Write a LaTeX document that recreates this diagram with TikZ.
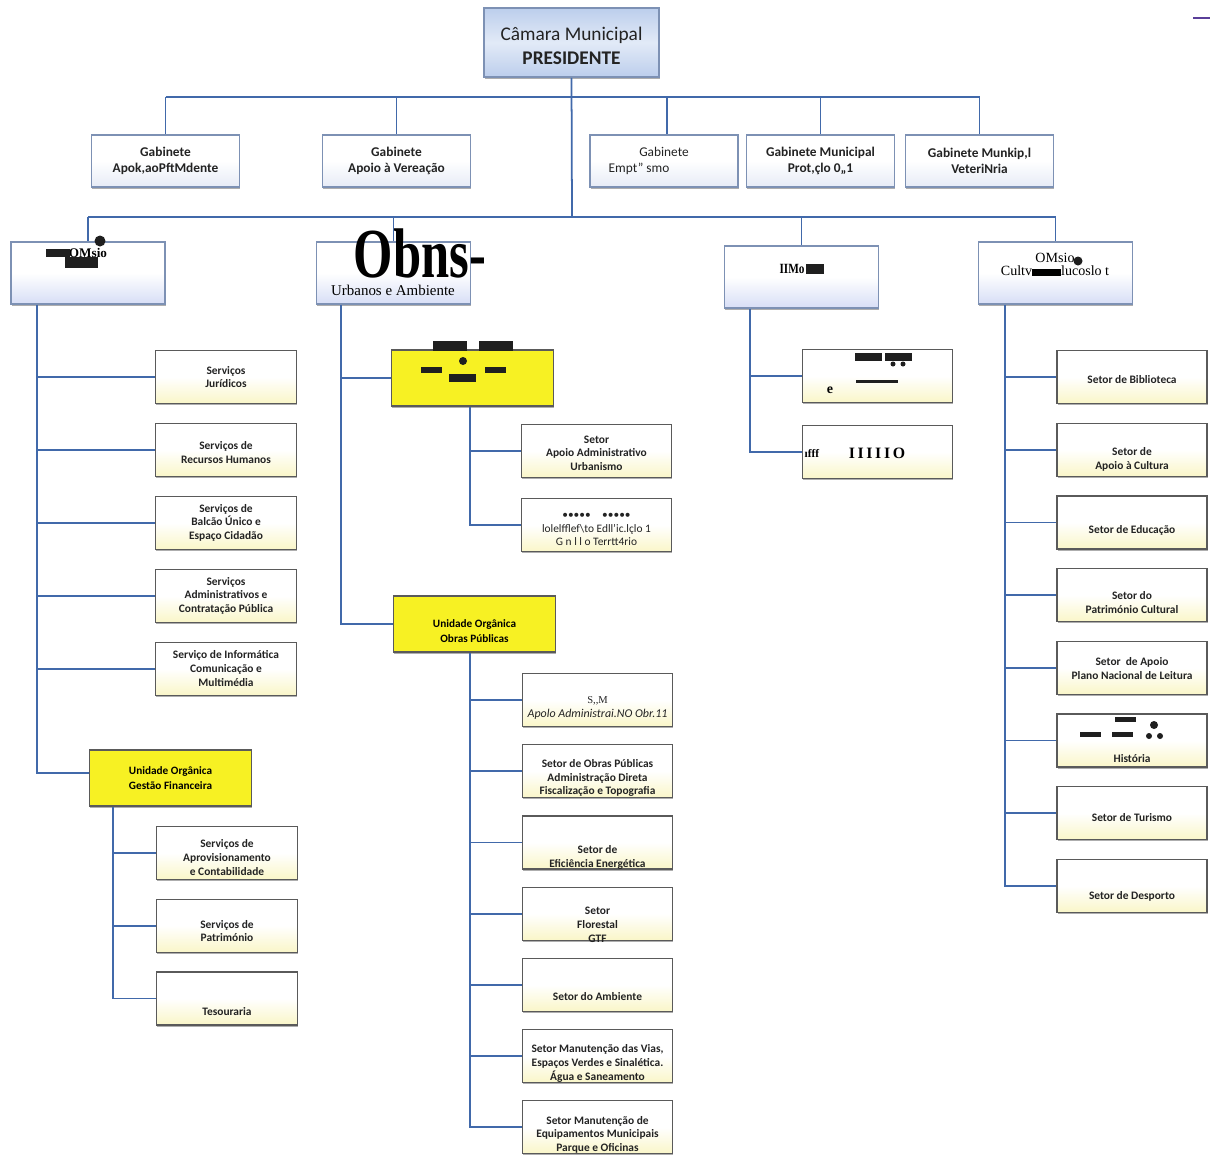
\documentclass[tikz,border=0pt]{standalone}
\usepackage{fontspec}
\setmainfont{Carlito}
\newfontfamily\serifa{Liberation Serif}
\usetikzlibrary{positioning, shadows}

\definecolor{azullinha}{RGB}{65,105,170}
\definecolor{bordacinza}{RGB}{90,90,90}
\definecolor{bordaazul}{RGB}{125,145,180}
\definecolor{amareloclaro}{RGB}{250,246,200}
\definecolor{amareloforte}{RGB}{247,241,35}
\definecolor{lilas}{RGB}{215,222,246}
\definecolor{azulpalido}{RGB}{230,235,246}
\definecolor{azulclaro}{RGB}{188,206,236}
\definecolor{azulmeio}{RGB}{226,234,247}
\definecolor{textocinza}{RGB}{35,35,35}

% texto descido dentro da caixa
\newcommand{\desce}[2]{\smash{\raisebox{-#1pt}{\begin{tabular}{@{}c@{}}#2\end{tabular}}}}

\begin{document}
\begin{tikzpicture}[
x=0.02cm, y=-0.02cm,
node distance=0.375cm and 1cm,
linha/.style={draw=azullinha, line width=1pt},
sombra/.style={drop shadow={shadow xshift=0.5pt, shadow yshift=-0.9pt, opacity=0.45, fill=black!70}},
caixa/.style={rectangle, draw=bordacinza, line width=0.7pt, sombra, top color=white, bottom color=amareloclaro, middle color=white, minimum width=2.82cm, minimum height=1.06cm, inner sep=0pt, align=center, text=textocinza, font=\fontsize{6.5}{7.9}\selectfont\bfseries},
larga/.style={caixa, minimum width=3.0cm},
unidade/.style={rectangle, draw=bordacinza, line width=0.7pt, sombra, fill=amareloforte, minimum width=3.24cm, minimum height=1.12cm, inner sep=0pt, align=center, font=\fontsize{6.4}{8.2}\selectfont\bfseries},
gabinete/.style={rectangle, draw=bordaazul, line width=0.8pt, sombra, top color=white, bottom color=azulpalido, middle color=white, minimum width=2.96cm, minimum height=1.04cm, align=center, text=textocinza, font=\fontsize{7.6}{9}\selectfont\bfseries},
departamento/.style={rectangle, draw=bordaazul, line width=0.9pt, sombra, top color=white, bottom color=lilas, middle color=white, minimum width=3.08cm, minimum height=1.24cm},
topo/.style={rectangle, draw=bordaazul, line width=0.9pt, sombra, top color=azulclaro, bottom color=azulclaro, middle color=azulmeio, minimum width=3.5cm, minimum height=1.38cm, inner sep=0pt, align=center, text=textocinza, font=\fontsize{11}{13.5}\selectfont},
serifado/.style={inner sep=0pt, text=black, font=\serifa\fontsize{8}{9}\selectfont},
borrao/.style={fill=black!88}
]
\useasboundingbox (0,0) rectangle (1210,1154);

% topo
\node[topo] (cm_pres) at (571.5,42.5) {\desce{5.6}{Câmara Municipal\\\textbf{PRESIDENTE}}};

\node[gabinete] (gab_apoio_pres) at (165.5,161) {Gabinete\\Apok,aoPftMdente};
\node[gabinete] (gab_apoio_ver) at (396.5,161) {Gabinete\\Apoio à Vereação};
\node[gabinete, font=\fontsize{7.6}{9}\selectfont] (gab_emp) at (664,161) {Gabinete\\\mbox{Empt'' smo\hspace{1cm}}};
\node[gabinete] (gab_prot) at (820.5,161) {Gabinete Municipal\\Prot,çlo 0,,1};
\node[gabinete] (gab_vet) at (979.5,161) {Gabinete Munkip,l\\VeteriNria};

% departamentos
\node[departamento] (dep_adm) at (88,273) {};
\node[departamento] (dep_obras) at (393.5,273) {};
\node[departamento] (dep_c) at (801.5,277) {};
\node[departamento] (dep_cult) at (1055.5,273) {};

\node[serifado, font=\serifa\bfseries\fontsize{7.5}{9}\selectfont] (tx_adm) at (88,253) {OMsio};
\fill[borrao] (46,249) rectangle (70,257);
\fill[borrao] (65,257) rectangle (98,268);
\fill[borrao] (100,241) circle (0.11cm);

\node[serifado, text depth=0pt, font=\serifa\bfseries\fontsize{40}{40}\selectfont] (tx_obras) at (420,253) {\scalebox{0.72}[1]{Obns-}};
\node[serifado, font=\serifa\fontsize{8.5}{9}\selectfont] (tx_urb_amb) at (393,290) {Urbanos e Ambiente};

\node[serifado, font=\serifa\bfseries\fontsize{8}{9}\selectfont] (tx_c) at (792,269) {\scalebox{0.8}[1]{IIMo}};
\fill[borrao] (806,264) rectangle (824,274);

\node[serifado] (tx_cult_a) at (1055,258) {OMsio};
\fill[borrao] (1078,261) circle (0.09cm);
\node[serifado] (tx_cult_b) at (1055,271) {Cultv\rule[-0.6pt]{0.58cm}{4pt}lucoslo t};

% administracao
\node[caixa] (serv_jur) at (226,377) {Serviços\\Jurídicos};
\node[caixa, below=of serv_jur] (serv_rh) {\desce{3.8}{Serviços de\\Recursos Humanos}};
\node[caixa, below=of serv_rh] (serv_balcao) {Serviços de\\Balcão Único e\\Espaço Cidadão};
\node[caixa, below=of serv_balcao] (serv_adm) {Serviços\\Administrativos e\\Contratação Pública};
\node[caixa, below=of serv_adm] (serv_inf) {Serviço de Informática\\Comunicação e\\Multimédia};

\node[unidade] (uo_fin) at (170.5,778) {Unidade Orgânica\\Gestão Financeira};
\node[caixa] (serv_aprov) at (227,853) {\desce{4.9}{Serviços de\\Aprovisionamento\\e Contabilidade}};
\node[caixa, below=0.37cm of serv_aprov] (serv_patr) {\desce{5.2}{Serviços de\\Património}};
\node[caixa, below=0.37cm of serv_patr] (tesouraria) {\desce{9.4}{Tesouraria}};

% obras e urbanismo
\node[unidade] (uo_urb) at (472.5,378) {};
\fill[borrao] (433,341) rectangle (467,351);
\fill[borrao] (479,341) rectangle (513,351);
\fill[borrao] (463,361) circle (0.08cm);
\fill[borrao] (421,367) rectangle (442,373);
\fill[borrao] (449,374) rectangle (476,382);
\fill[borrao] (485,367) rectangle (506,373);

\node[larga] (urb_apoio) at (596.5,451) {\desce{3.3}{Setor\\Apoio Administrativo\\Urbanismo}};
\node[larga, below=0.4cm of urb_apoio, font=\fontsize{6.5}{7.9}\selectfont] (urb_terr) {\desce{3.8}{\textbullet\textbullet\textbullet\textbullet\textbullet\quad\textbullet\textbullet\textbullet\textbullet\textbullet\\lolelfflef\textbackslash to Edll'ic.lçlo 1\\G n l l o Terrtt4rio}};

\node[unidade] (uo_obras) at (474.5,624) {\desce{6.1}{Unidade Orgânica\\Obras Públicas}};
\node[larga, font=\fontsize{6.8}{7.9}\selectfont] (op_apoio) at (597.5,700) {\desce{6}{{\serifa\fontsize{6}{7}\selectfont S,,M}\\\textit{Apolo Administrai.NO Obr.11}}};
\node[larga, below=0.34cm of op_apoio] (op_obras) {\desce{5.5}{Setor de Obras Públicas\\Administração Direta\\Fiscalização e Topografia}};
\node[larga, below=0.34cm of op_obras] (op_efic) {\desce{10}{Setor de\\Eficiência Energética}};
\node[larga, below=0.34cm of op_efic] (op_flor) {\desce{8.3}{Setor\\Florestal\\GTF}};
\node[larga, below=0.34cm of op_flor] (op_amb) {\desce{8.9}{Setor do Ambiente}};
\node[larga, below=0.34cm of op_amb] (op_vias) {\desce{6}{Setor Manutenção das Vias,\\Espaços Verdes e Sinalética.\\Água e Saneamento}};
\node[larga, below=0.34cm of op_vias] (op_equip) {\desce{6}{Setor Manutenção de\\Equipamentos Municipais\\Parque e Oficinas}};

% terceiro departamento
\node[larga] (c_um) at (877.5,376) {};
\node[larga, below=0.44cm of c_um] (c_dois) {};
\fill[borrao] (855,353) rectangle (882,361);
\fill[borrao] (885,353) rectangle (912,361);
\fill[borrao] (893,364) circle (0.05cm);
\fill[borrao] (903,364) circle (0.05cm);
\fill[borrao] (856,380) rectangle (898,383);
\node[serifado, font=\serifa\bfseries\fontsize{8}{9}\selectfont] (tx_c_um) at (830,390) {e};
\node[serifado, font=\serifa\bfseries\fontsize{6.5}{8}\selectfont] (tx_c_dois_a) at (812,453) {ıfff};
\node[serifado, font=\serifa\bfseries\fontsize{9}{10}\selectfont] (tx_c_dois_b) at (877,453) {I\,I\,I\,I\,I\,O};

% cultura
\node[larga] (set_bib) at (1132,377) {\desce{3.8}{Setor de Biblioteca}};
\node[larga, below=0.37cm of set_bib] (set_apcult) {\desce{7.2}{Setor de\\Apoio à Cultura}};
\node[larga, below=0.37cm of set_apcult] (set_edu) {\desce{6}{Setor de Educação}};
\node[larga, below=0.37cm of set_edu] (set_patr) {\desce{6.6}{Setor do\\Património Cultural}};
\node[larga, below=0.37cm of set_patr] (set_pnl) {\desce{2.6}{Setor~ de Apoio\\Plano Nacional de Leitura}};
\node[larga, below=0.37cm of set_pnl] (set_hist) {\desce{12.3}{História}};
\node[larga, below=0.37cm of set_hist] (set_tur) {\desce{4.3}{Setor de Turismo}};
\node[larga, below=0.37cm of set_tur] (set_desp) {\desce{7.5}{Setor de Desporto}};
\fill[borrao] (1115,717) rectangle (1136,722);
\fill[borrao] (1080,732) rectangle (1101,737);
\fill[borrao] (1112,732) rectangle (1133,737);
\fill[borrao] (1154,725) circle (0.08cm);
\fill[borrao] (1149,736) circle (0.06cm);
\fill[borrao] (1160,736) circle (0.06cm);

% ligacoes
\coordinate (barra_gab) at (572,97);
\coordinate (barra_dep) at (572,217);
\draw[linha] (cm_pres.south) -- (barra_dep);
\draw[linha] (barra_gab -| gab_apoio_pres) -- (barra_gab -| gab_vet);
\draw[linha] (barra_gab -| gab_apoio_pres) -- (gab_apoio_pres.north);
\draw[linha] (barra_gab -| gab_apoio_ver) -- (gab_apoio_ver.north);
\draw[linha] ([xshift=0.06cm]barra_gab -| gab_emp) -- ([xshift=0.06cm]gab_emp.north);
\draw[linha] (barra_gab -| gab_prot) -- (gab_prot.north);
\draw[linha] (barra_gab -| gab_vet) -- (gab_vet.north);

\draw[linha] (barra_dep -| dep_adm) -- (barra_dep -| dep_cult);
\draw[linha] (barra_dep -| dep_adm) -- (dep_adm.north);
\draw[linha] (barra_dep -| dep_obras) -- (dep_obras.north);
\draw[linha] (barra_dep -| dep_c) -- (dep_c.north);
\draw[linha] (barra_dep -| dep_cult) -- (dep_cult.north);

\coordinate (eixo_adm) at ([xshift=0.54cm]dep_adm.south west);
\draw[linha] (eixo_adm) |- ([yshift=0.1cm]uo_fin.west);
\draw[linha] (eixo_adm |- serv_jur) -- (serv_jur.west);
\draw[linha] (eixo_adm |- serv_rh) -- (serv_rh.west);
\draw[linha] (eixo_adm |- serv_balcao) -- (serv_balcao.west);
\draw[linha] (eixo_adm |- serv_adm) -- (serv_adm.west);
\draw[linha] (eixo_adm |- serv_inf) -- (serv_inf.west);

\coordinate (eixo_fin) at ([xshift=0.48cm]uo_fin.south west);
\draw[linha] (eixo_fin) |- (tesouraria.west);
\draw[linha] (eixo_fin |- serv_aprov) -- (serv_aprov.west);
\draw[linha] (eixo_fin |- serv_patr) -- (serv_patr.west);

\coordinate (eixo_obras) at ([xshift=0.5cm]dep_obras.south west);
\draw[linha] (eixo_obras) |- (uo_obras.west);
\draw[linha] (eixo_obras |- uo_urb) -- (uo_urb.west);

\coordinate (eixo_urb) at ([xshift=-0.05cm]uo_urb.south);
\draw[linha] (eixo_urb) |- (urb_terr.west);
\draw[linha] (eixo_urb |- urb_apoio) -- (urb_apoio.west);

\coordinate (eixo_op) at ([xshift=-0.09cm]uo_obras.south);
\draw[linha] (eixo_op) |- (op_equip.west);
\draw[linha] (eixo_op |- op_apoio) -- (op_apoio.west);
\draw[linha] (eixo_op |- op_obras) -- (op_obras.west);
\draw[linha] (eixo_op |- op_efic) -- (op_efic.west);
\draw[linha] (eixo_op |- op_flor) -- (op_flor.west);
\draw[linha] (eixo_op |- op_amb) -- (op_amb.west);
\draw[linha] (eixo_op |- op_vias) -- (op_vias.west);

\coordinate (eixo_c) at ([xshift=0.52cm]dep_c.south west);
\draw[linha] (eixo_c) |- (c_dois.west);
\draw[linha] (eixo_c |- c_um) -- (c_um.west);

\coordinate (eixo_cult) at ([xshift=0.54cm]dep_cult.south west);
\draw[linha] (eixo_cult) |- (set_desp.west);
\draw[linha] (eixo_cult |- set_bib) -- (set_bib.west);
\draw[linha] (eixo_cult |- set_apcult) -- (set_apcult.west);
\draw[linha] (eixo_cult |- set_edu) -- (set_edu.west);
\draw[linha] (eixo_cult |- set_patr) -- (set_patr.west);
\draw[linha] (eixo_cult |- set_pnl) -- (set_pnl.west);
\draw[linha] (eixo_cult |- set_hist) -- (set_hist.west);
\draw[linha] (eixo_cult |- set_tur) -- (set_tur.west);

\draw[draw=azullinha!60!violet, line width=1.3pt] (1193,18) -- (1210,18);
\end{tikzpicture}
\end{document}
